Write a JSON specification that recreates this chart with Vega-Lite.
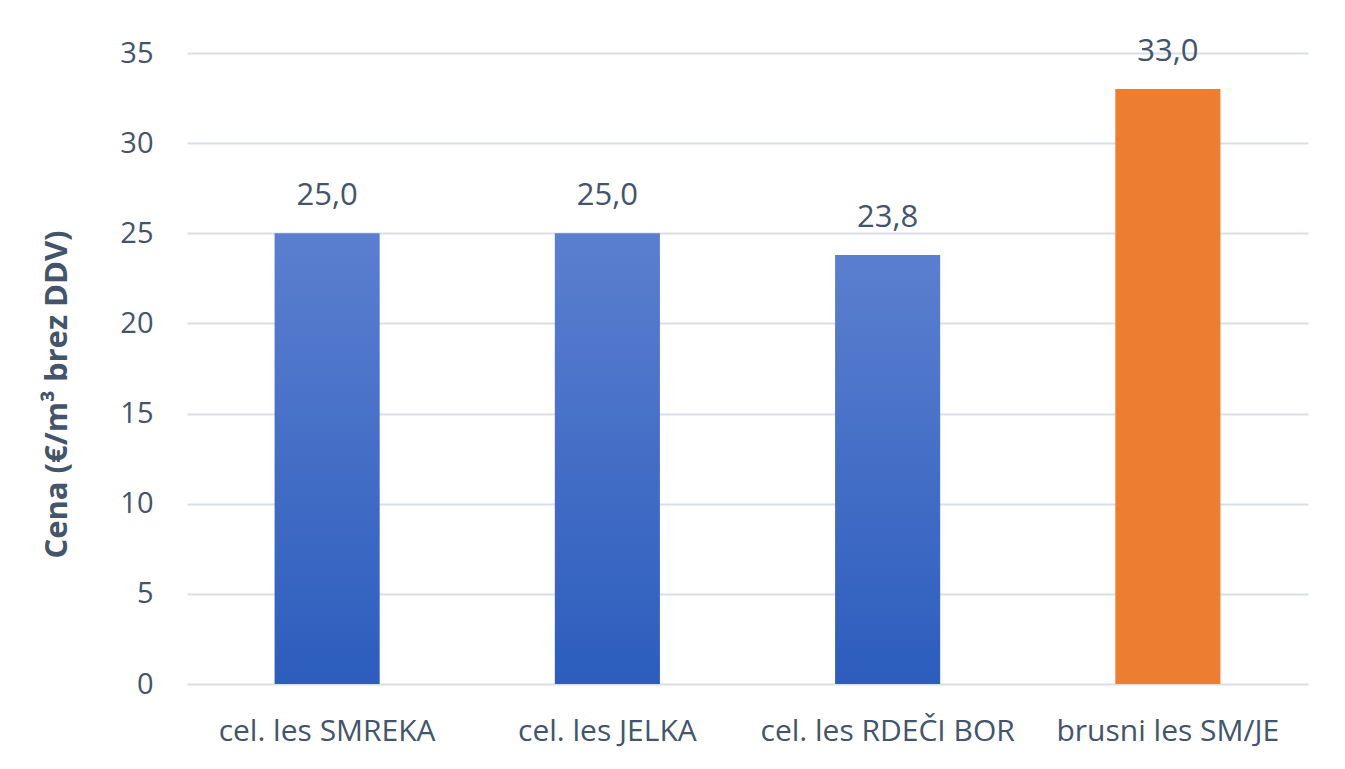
{
  "$schema": "https://vega.github.io/schema/vega-lite/v6.json",
  "width": 1121,
  "height": 631,
  "autosize": "none",
  "padding": {"left": 187, "top": 53, "right": 37, "bottom": 85},
  "background": "white",
  "config": {
    "view": {"stroke": null},
    "locale": {"number": {"decimal": ",", "thousands": ".", "grouping": [3], "currency": ["", " €"]}},
    "font": "Open Sans"
  },
  "data": {
    "values": [
      {"kategorija": "cel. les SMREKA", "cena": 25.0, "tip": "cel"},
      {"kategorija": "cel. les JELKA", "cena": 25.0, "tip": "cel"},
      {"kategorija": "cel. les RDEČI BOR", "cena": 23.8, "tip": "cel"},
      {"kategorija": "brusni les SM/JE", "cena": 33.0, "tip": "brusni"}
    ]
  },
  "encoding": {
    "x": {
      "field": "kategorija",
      "type": "nominal",
      "sort": null,
      "scale": {"paddingInner": 0.625, "paddingOuter": 0.3125},
      "axis": {
        "title": null,
        "labelAngle": 0,
        "labelFont": "Open Sans",
        "labelFontSize": 30,
        "labelColor": "#44546A",
        "labelPadding": 32,
        "labelLimit": 0,
        "ticks": false,
        "domain": false
      }
    },
    "y": {
      "field": "cena",
      "type": "quantitative",
      "scale": {"domain": [0, 35], "nice": false},
      "axis": {
        "title": "Cena (€/m³ brez DDV)",
        "titleFont": "Open Sans",
        "titleFontSize": 31,
        "titleFontWeight": "bold",
        "titleColor": "#44546A",
        "titleBaseline": "middle",
        "titleX": -130,
        "titleY": 341,
        "values": [0, 5, 10, 15, 20, 25, 30, 35],
        "labelFont": "Open Sans",
        "labelFontSize": 29,
        "labelColor": "#44546A",
        "labelPadding": 34,
        "ticks": false,
        "domain": false,
        "gridColor": "#D9DEE8",
        "gridWidth": 2,
        "format": "d"
      }
    }
  },
  "layer": [
    {
      "transform": [{"filter": "datum.tip == 'cel'"}],
      "mark": {
        "type": "bar",
        "color": {
          "gradient": "linear",
          "x1": 0, "y1": 0, "x2": 0, "y2": 1,
          "stops": [
            {"offset": 0, "color": "#5B7FCF"},
            {"offset": 1, "color": "#2C5DBD"}
          ]
        }
      }
    },
    {
      "transform": [{"filter": "datum.tip == 'brusni'"}],
      "mark": {"type": "bar", "color": "#ED7D31"}
    },
    {
      "mark": {"type": "text", "baseline": "alphabetic", "dy": -28, "fontSize": 31, "color": "#44546A", "font": "Open Sans"},
      "encoding": {
        "text": {"field": "cena", "type": "quantitative", "format": ".1f"}
      }
    }
  ]
}
